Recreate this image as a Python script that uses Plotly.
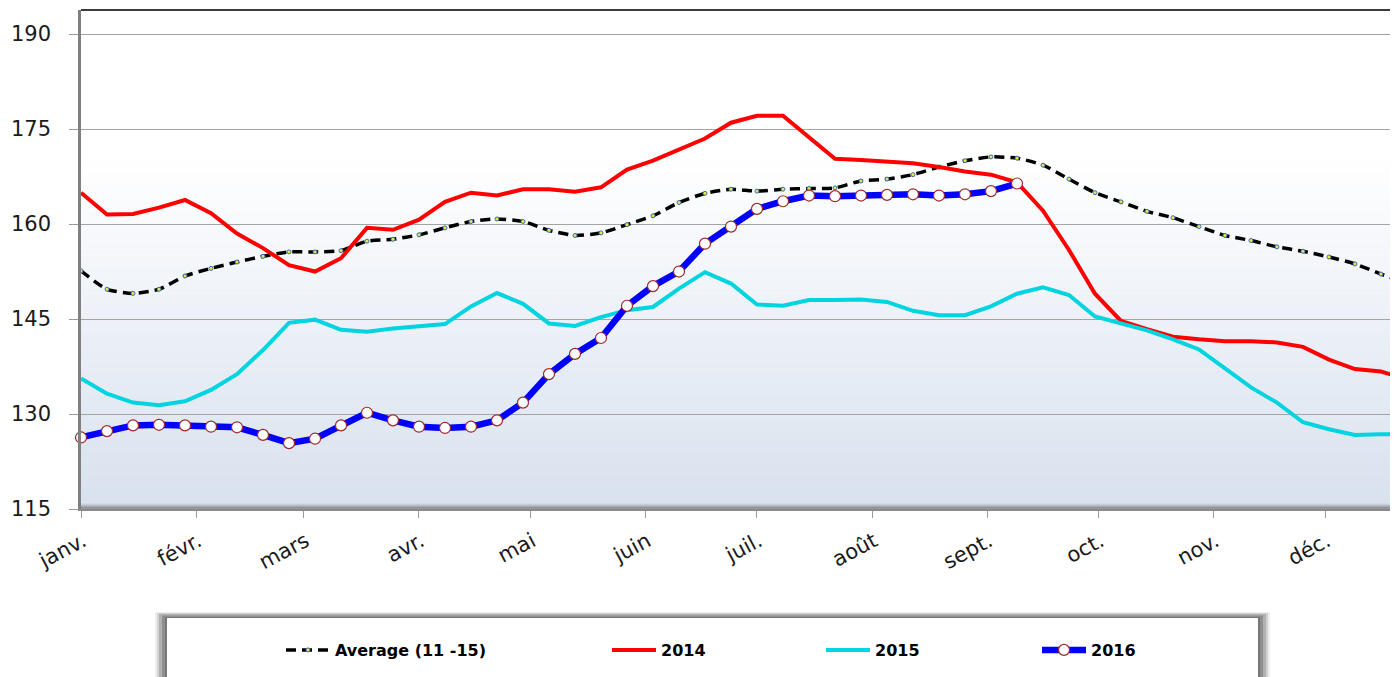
import plotly.graph_objects as go
import pandas as pd

# ---------------- data ----------------
weeks = pd.date_range("2016-01-01", periods=52, freq="7D")

avg_11_15 = [152.6, 149.7, 149.05, 149.7, 151.8, 153.0, 154.0, 154.9, 155.6, 155.6,
             155.8, 157.3, 157.6, 158.3, 159.4, 160.4, 160.8, 160.4, 159.0, 158.2,
             158.6, 159.9, 161.3, 163.4, 164.85, 165.5, 165.2, 165.5, 165.6, 165.7,
             166.8, 167.1, 167.8, 169.0, 170.0, 170.6, 170.4, 169.3, 167.1, 164.95,
             163.5, 162.0, 161.0, 159.6, 158.2, 157.4, 156.4, 155.7, 154.8, 153.7,
             152.1, 150.6]

y2014 = [164.95, 161.5, 161.6, 162.6, 163.8, 161.7, 158.5, 156.2, 153.5, 152.5,
         154.6, 159.4, 159.1, 160.7, 163.5, 164.95, 164.5, 165.5, 165.5, 165.1,
         165.8, 168.6, 170.0, 171.8, 173.5, 176.0, 177.1, 177.1, 173.6, 170.3,
         170.1, 169.8, 169.6, 169.0, 168.3, 167.8, 166.6, 162.1, 155.9, 149.0,
         144.7, 143.4, 142.2, 141.8, 141.5, 141.5, 141.3, 140.6, 138.6, 137.1,
         136.7, 135.5]

y2015 = [135.6, 133.2, 131.8, 131.4, 132.0, 133.8, 136.3, 140.1, 144.4, 144.9,
         143.3, 143.0, 143.5, 143.8, 144.2, 147.0, 149.1, 147.4, 144.3, 143.9,
         145.3, 146.4, 146.9, 149.8, 152.4, 150.6, 147.3, 147.1, 148.0, 148.0,
         148.1, 147.7, 146.3, 145.6, 145.6, 147.0, 149.0, 150.0, 148.8, 145.4,
         144.3, 143.2, 141.8, 140.2, 137.2, 134.2, 131.8, 128.7, 127.6, 126.7,
         126.8, 126.8]

y2016 = [126.3, 127.3, 128.2, 128.3, 128.2, 128.0, 127.9, 126.7, 125.4, 126.1,
         128.2, 130.2, 129.0, 128.0, 127.8, 128.0, 129.0, 131.8, 136.3, 139.5,
         142.0, 147.1, 150.2, 152.5, 156.9, 159.6, 162.4, 163.6, 164.5, 164.4,
         164.5, 164.6, 164.7, 164.5, 164.7, 165.2, 166.4]

month_ticks = pd.date_range("2016-01-01", periods=12, freq="MS")
month_labels = ["janv.", "févr.", "mars", "avr.", "mai", "juin", "juil.",
                "août", "sept.", "oct.", "nov.", "déc."]
y_ticks = [115, 130, 145, 160, 175, 190]

# ---------------- figure ----------------
fig = go.Figure()

fig.add_trace(go.Scatter(
    x=weeks, y=avg_11_15, name="Average (11 -15)", mode="lines+markers",
    line=dict(color="black", width=3.5, dash="10px,6px", shape="spline", smoothing=0.6),
    marker=dict(size=4, color="#e8e840", line=dict(color="#3a6fb0", width=1)),
    legend="legend"))
fig.add_trace(go.Scatter(
    x=weeks, y=y2014, name="2014", mode="lines",
    line=dict(color="#ff0000", width=4), legend="legend2"))
fig.add_trace(go.Scatter(
    x=weeks, y=y2015, name="2015", mode="lines",
    line=dict(color="#00d4e0", width=4), legend="legend3"))
fig.add_trace(go.Scatter(
    x=weeks[:len(y2016)], y=y2016, name="2016", mode="lines+markers",
    line=dict(color="#0000ff", width=6.5),
    marker=dict(size=11, color="white", line=dict(color="#a0282d", width=1.2)),
    cliponaxis=False, legend="legend4"))

# ---------------- background gradient in plot area ----------------
shapes = []
top_c = (255, 255, 255)
bot_c = (216, 225, 238)
g_top, g_bot = 171.0, 115.0
n = 56
step = (g_top - g_bot) / n
for i in range(n):
    y0 = g_bot + i * step
    t = i / (n - 1)
    c = tuple(int(round(bot_c[j] + (top_c[j] - bot_c[j]) * t)) for j in range(3))
    shapes.append(dict(type="rect", xref="paper", yref="y", x0=0, x1=1,
                       y0=y0, y1=y0 + step + 0.05, layer="below",
                       line=dict(width=0), fillcolor="rgb(%d,%d,%d)" % c))
# bottom shadow band
for i, col in enumerate(["#d3dae4", "#c8ced8", "#b9bec6", "#a6aab0", "#939699"]):
    y0 = 115 + (5 - i) * 0.16
    shapes.append(dict(type="rect", xref="paper", yref="y", x0=0, x1=1,
                       y0=115, y1=y0 + 0.16, layer="below",
                       line=dict(width=0), fillcolor=col))

# plot frame: top border
shapes.append(dict(type="line", xref="paper", yref="paper", x0=0, x1=1, y0=1, y1=1,
                   line=dict(color="#3c3c3c", width=2)))

# ---------------- layout geometry (page body has an 8px margin) ----------------
OFF = 8
W, H = 1398 - OFF, 677 - OFF
L, T, PW, PH = 81 - OFF, 10 - OFF, 1317, 499


def px(xp):
    return (xp - OFF - L) / PW


def py(yp):
    return (T + PH - (yp - OFF)) / PH


# legend box with soft shadow
for i, (a, c) in enumerate([(0.10, 12), (0.18, 10), (0.28, 8), (0.38, 5), (0.45, 2)]):
    shapes.append(dict(type="rect", xref="paper", yref="paper",
                       x0=px(167 - c), x1=px(1258 + c), y0=py(700), y1=py(618 - c * 0.5),
                       line=dict(width=0), fillcolor="rgba(90,90,90,%.2f)" % a))
shapes.append(dict(type="rect", xref="paper", yref="paper",
                   x0=px(167), x1=px(1258), y0=py(700), y1=py(618),
                   line=dict(width=0), fillcolor="white"))

leg_font = dict(family="DejaVu Sans", size=16, color="black", weight=700)
leg_common = dict(orientation="h", xanchor="left", yanchor="middle",
                  bgcolor="rgba(0,0,0,0)", borderwidth=0, font=leg_font,
                  itemwidth=44, tracegroupgap=0)
leg_y = py(650)

fig.update_layout(
    width=W, height=H,
    margin=dict(l=L, r=0, t=T, b=H - T - PH, pad=0),
    paper_bgcolor="white", plot_bgcolor="rgba(0,0,0,0)",
    shapes=shapes,
    showlegend=True,
    legend=dict(x=px(281), y=leg_y, **leg_common),
    legend2=dict(x=px(607), y=leg_y, **leg_common),
    legend3=dict(x=px(821), y=leg_y, **leg_common),
    legend4=dict(x=px(1037), y=leg_y, **leg_common),
    xaxis=dict(
        type="date", range=["2016-01-01", "2016-12-20 14:00"],
        tickmode="array", tickvals=month_ticks, ticktext=month_labels,
        tickangle=-28, ticks="outside", ticklen=7, tickcolor="#9a9a9a", tickwidth=1.2,
        showgrid=False, zeroline=False,
        showline=True, linecolor="#8a8a8a", linewidth=2,
        tickfont=dict(family="DejaVu Sans", size=21, color="#1a1a1a"),
        ticklabelstandoff=3, ticklabelshift=2),
    yaxis=dict(
        range=[115, 193.8], tickmode="array", tickvals=y_ticks,
        ticks="outside", ticklen=9, tickcolor="#9a9a9a", tickwidth=1.2,
        showgrid=True, gridcolor="#a4a4a4", gridwidth=1.2, zeroline=False,
        showline=True, linecolor="#808080", linewidth=2.5,
        tickfont=dict(family="DejaVu Sans", size=21, color="#1a1a1a"),
        ticklabelstandoff=14),
)

fig.write_html("out.html")
